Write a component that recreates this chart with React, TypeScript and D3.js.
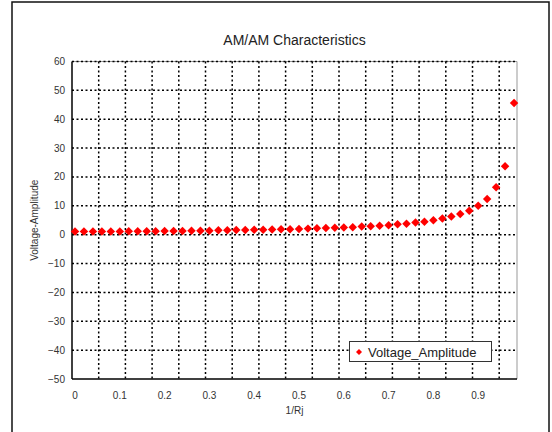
import React from 'react'
import * as d3 from 'd3'

// 1/Rj sample positions and measured amplitudes
const xValues = d3.range(50).map((i) => i * 0.02)
const amplitude = [
  1.1, 1.1, 1.1, 1.1, 1.1, 1.1, 1.2, 1.2, 1.2, 1.2,
  1.3, 1.3, 1.3, 1.4, 1.4, 1.4, 1.5, 1.5, 1.6, 1.6,
  1.7, 1.7, 1.8, 1.9, 1.9, 2.0, 2.1, 2.2, 2.3, 2.4,
  2.5, 2.6, 2.8, 2.9, 3.1, 3.3, 3.6, 3.8, 4.2, 4.5,
  5.0, 5.6, 6.3, 7.2, 8.3, 10.0, 12.4, 16.4, 23.7, 45.6,
]
const xTickLabels = [0, 0.1, 0.2, 0.3, 0.4, 0.5, 0.6, 0.7, 0.8, 0.9]
const yTicks = [60, 50, 40, 30, 20, 10, 0, -10, -20, -30, -40, -50]

const W = 552
const H = 432
const left = 72
const right = 517
const top = 61.5
const bottom = 379

const font = '"Liberation Sans", Arial, sans-serif'

const App = () => {
  const data = xValues.map((x, i) => ({ x, y: amplitude[i] }))

  // x: 0 sits a few px inside the box, 0.1 per ~44.8px
  const xScale = d3.scaleLinear().domain([0, 1]).range([75, 523])
  const yScale = d3.scaleLinear().domain([-50, 60]).range([bottom, top])

  // vertical grid is every 3/50 of the axis span (not aligned to labels)
  const gridStep = (right - left) * 3 / 50
  const gridX = d3.range(1, 17).map((k) => left + k * gridStep)

  const marker = d3.symbol().type(d3.symbolSquare).size(36)()
  const fmt = (v: number) => (v < 0 ? '\u2212' + Math.abs(v) : String(v))

  return (
    <svg width={W} height={H} style={{ position: 'absolute', left: 0, top: 0 }}>
      <rect x={0} y={0} width={W} height={H} fill="#fff" />
      <rect x={12} y={2} width={537} height={H + 10} fill="none" stroke="#111" strokeWidth={1.5} />

      <text x={(left + right) / 2} y={45} textAnchor="middle" fontFamily={font} fontSize={14} fill="#222">
        AM/AM Characteristics
      </text>

      {/* box */}
      <line x1={left} x2={right} y1={top} y2={top} stroke="#999" strokeWidth={1} />
      <line x1={right} x2={right} y1={top} y2={bottom} stroke="#999" strokeWidth={1} />

      {/* grid */}
      <g stroke="#000" strokeWidth={1.5} strokeDasharray="2 2.5">
        {yTicks.filter((t) => t > -50).map((t) => (
          <line key={'h' + t} x1={left} x2={right} y1={yScale(t)} y2={yScale(t)} />
        ))}
        {gridX.map((gx, i) => (
          <line key={'v' + i} x1={gx} x2={gx} y1={top} y2={bottom} />
        ))}
      </g>

      {/* axes */}
      <line x1={left} x2={left} y1={top} y2={bottom} stroke="#000" strokeWidth={1.5} />
      <line x1={left} x2={right} y1={bottom} y2={bottom} stroke="#000" strokeWidth={1.5} />

      <g fontFamily={font} fontSize={10} fill="#333">
        {yTicks.map((t) => (
          <text key={'yl' + t} x={65} y={yScale(t) + 3.5} textAnchor="end">{fmt(t)}</text>
        ))}
        {xTickLabels.map((t) => (
          <text key={'xl' + t} x={xScale(t)} y={399} textAnchor="middle">{t}</text>
        ))}
        <text x={(left + right) / 2} y={414} textAnchor="middle">1/Rj</text>
        <text transform={`translate(38,${(top + bottom) / 2}) rotate(-90)`} textAnchor="middle">
          Voltage-Amplitude
        </text>
      </g>

      {/* points */}
      <g fill="#ff0000">
        {data.map((d, i) => (
          <path key={i} d={marker!} transform={`translate(${xScale(d.x)},${yScale(d.y)}) rotate(45)`} />
        ))}
      </g>

      {/* legend */}
      <g>
        <rect x={349.5} y={341.5} width={142} height={20} fill="#fff" stroke="#333" strokeWidth={1} />
        <path d={d3.symbol().type(d3.symbolSquare).size(18)()!} transform="translate(359,352) rotate(45)" fill="#ff0000" />
        <text x={368} y={356.5} fontFamily={font} fontSize={13} fill="#222">Voltage_Amplitude</text>
      </g>
    </svg>
  )
}

export default App
